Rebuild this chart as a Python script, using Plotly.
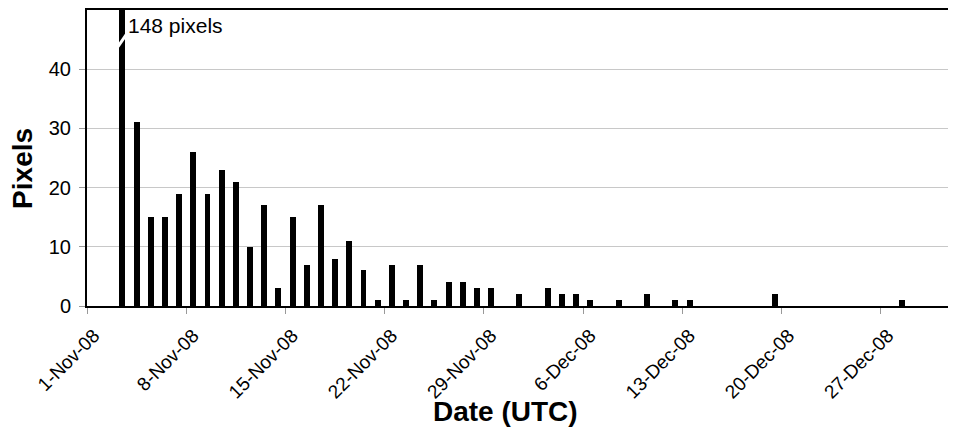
import plotly.graph_objects as go
import pandas as pd

# ---- data ----
dates = [
    "2008-11-03", "2008-11-04", "2008-11-05", "2008-11-06", "2008-11-07",
    "2008-11-08", "2008-11-09", "2008-11-10", "2008-11-11", "2008-11-12",
    "2008-11-13", "2008-11-14", "2008-11-15", "2008-11-16", "2008-11-17",
    "2008-11-18", "2008-11-19", "2008-11-20", "2008-11-21", "2008-11-22",
    "2008-11-23", "2008-11-24", "2008-11-25", "2008-11-26", "2008-11-27",
    "2008-11-28", "2008-11-29", "2008-12-01", "2008-12-03", "2008-12-04",
    "2008-12-05", "2008-12-06", "2008-12-08", "2008-12-10", "2008-12-12",
    "2008-12-13", "2008-12-19", "2008-12-28",
]
pixels = [
    148, 31, 15, 15, 19,
    26, 19, 23, 21, 10,
    17, 3, 15, 7, 17,
    8, 11, 6, 1, 7,
    1, 7, 1, 4, 4,
    3, 3, 2, 3, 2,
    2, 1, 1, 2, 1,
    1, 2, 1,
]
y_ticks = [0, 10, 20, 30, 40]
y_max = 50
x_start = "2008-11-01"
x_end = "2009-01-01 07:00"

DAY_MS = 86400000
FONT = "Arial, Liberation Sans, Helvetica, sans-serif"

fig = go.Figure()
fig.add_trace(go.Bar(
    x=dates, y=pixels,
    xperiod=DAY_MS, xperiodalignment="middle",
    width=0.42 * DAY_MS,
    marker=dict(color="black", line=dict(width=0)),
    showlegend=False,
))

# broken-bar marker and label for the off-scale bar
imax = max(range(len(pixels)), key=lambda i: pixels[i])
bar_mid = pd.Timestamp(dates[imax]) + pd.Timedelta(hours=12)
fig.add_shape(
    type="line", xref="x", yref="y",
    x0=bar_mid - pd.Timedelta(hours=7.5), y0=43.8,
    x1=bar_mid + pd.Timedelta(hours=7.5), y1=46.0,
    line=dict(color="white", width=3),
)
fig.add_annotation(
    x=bar_mid + pd.Timedelta(hours=5), y=47.4, xref="x", yref="y",
    text=f"{pixels[imax]} pixels", showarrow=False,
    xanchor="left", yanchor="middle", xshift=1,
    font=dict(family=FONT, size=21, color="black"),
)

# axis titles
fig.add_annotation(
    x=0.482, y=-0.356, xref="paper", yref="paper",
    text="<b>Date (UTC)</b>", showarrow=False,
    xanchor="center", yanchor="middle",
    font=dict(family=FONT, size=28, color="black"),
)
fig.add_annotation(
    x=-0.075, y=0.466, xref="paper", yref="paper",
    text="<b>Pixels</b>", showarrow=False, textangle=-90,
    xanchor="center", yanchor="middle",
    font=dict(family=FONT, size=28, color="black"),
)

# the page body adds an 8px margin, so the figure is 8px smaller than the window
fig.update_layout(
    width=948, height=419,
    margin=dict(l=79, r=0, t=2, b=121),
    paper_bgcolor="white", plot_bgcolor="white",
    bargap=0,
    font=dict(family=FONT, color="black"),
    xaxis=dict(
        type="date",
        automargin=False,
        range=[x_start, x_end],
        tick0=x_start, dtick=7 * DAY_MS,
        tickformat="%-d-%b-%y",
        tickangle=-45,
        ticks="outside", ticklen=6, tickcolor="#999999", tickwidth=1,
        tickfont=dict(family=FONT, size=19, color="black"),
        ticklabelshift=7, ticklabelstandoff=3,
        showgrid=False,
        showline=True, linecolor="black", linewidth=2, mirror=True,
        zeroline=False,
    ),
    yaxis=dict(
        automargin=False,
        range=[0, y_max],
        tickvals=y_ticks,
        ticks="outside", ticklen=6, tickcolor="#999999", tickwidth=1,
        tickfont=dict(family=FONT, size=20, color="black"),
        ticklabelstandoff=4,
        showgrid=True, gridcolor="#c8c8c8", gridwidth=1,
        showline=True, linecolor="black", linewidth=2, mirror=False,
        zeroline=False,
    ),
)

fig.write_html("out.html")
